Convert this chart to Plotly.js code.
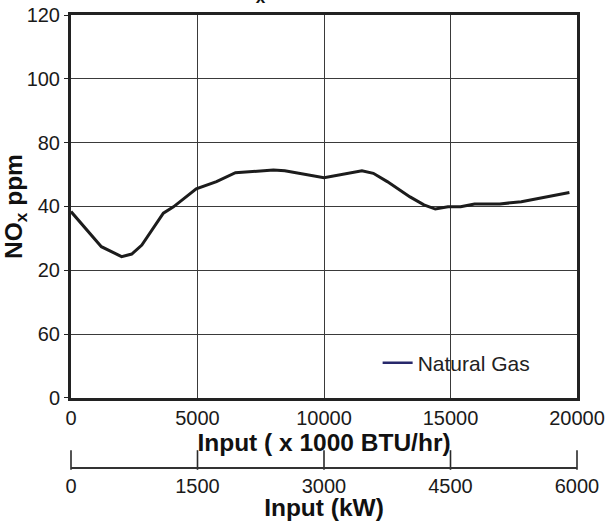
<!DOCTYPE html>
<html>
<head>
<meta charset="utf-8">
<script src="https://cdn.plot.ly/plotly-3.0.1.min.js"></script>
<style>html,body{margin:0;padding:0;background:#fff;}#chart{width:608px;height:521px;}</style>
</head>
<body>
<div id="chart"></div>
<script>
const inputBtu = [0, 1200, 2000, 2400, 2800, 3650, 4050, 4950, 5750, 6500, 8000, 8450, 10000, 11500, 11950, 12500, 13400, 13950, 14400, 14900, 15400, 15950, 16950, 17800, 19700];
const noxPpm = [58.4, 47.4, 44.3, 45.1, 47.9, 57.9, 59.9, 65.5, 67.8, 70.6, 71.4, 71.2, 69.0, 71.2, 70.4, 67.8, 63.0, 60.5, 59.2, 59.9, 59.9, 60.8, 60.8, 61.5, 64.4];
const yTickVals = [0, 20, 40, 60, 80, 100, 120];
const yTickText = ["0", "60", "20", "40", "80", "100", "120"];
const btuTicks = [0, 5000, 10000, 15000, 20000];
const kwTicks = [0, 1500, 3000, 4500, 6000];
const seriesName = "Natural Gas";

const FONT = "Liberation Sans, Arial, sans-serif";
const traces = [
  {x: inputBtu, y: noxPpm, mode: "lines", line: {color: "#1c1c1c", width: 3}, showlegend: false, hoverinfo: "skip"},
  {x: [null], y: [null], mode: "lines", name: seriesName, line: {color: "#27286b", width: 2.5}, showlegend: true},
  // tick marks of the kW scale (axis decoration)
  {x: kwTicks, y: kwTicks.map(() => 0.5), xaxis: "x2", yaxis: "y2", mode: "markers", showlegend: false, hoverinfo: "skip",
   marker: {symbol: "line-ns", size: 14, line: {width: 1.6, color: "#2a2a2a"}, color: "#2a2a2a"}, cliponaxis: false}
];
const layout = {
  width: 608, height: 521,
  margin: {l: 71, r: 31, t: 15, b: 54},
  paper_bgcolor: "#fff", plot_bgcolor: "rgba(0,0,0,0)",
  font: {family: FONT, color: "#1a1a1a", size: 20},
  showlegend: true,
  legend: {x: 0.606, y: 0.23, xanchor: "left", yanchor: "middle", bgcolor: "rgba(0,0,0,0)", font: {size: 21, color: "#222"}},
  xaxis: {
    range: [0, 20000], tickvals: btuTicks, ticktext: btuTicks.map(String),
    showgrid: true, gridcolor: "#3a3a3a", gridwidth: 1,
    showline: true, linecolor: "#222", linewidth: 3, mirror: true,
    ticks: "", zeroline: false, anchor: "y",
    title: {text: "<b>Input ( x 1000 BTU/hr)</b>", font: {size: 24.5, color: "#111"}, standoff: 1}
  },
  xaxis2: {
    anchor: "y2", domain: [0, 1],
    range: [0, 6000], tickvals: kwTicks, ticktext: kwTicks.map(String),
    showgrid: false, zeroline: false,
    showline: true, linecolor: "#333", linewidth: 1.5,
    ticks: "",
    title: {text: "<b>Input (kW)</b>", font: {size: 24.5, color: "#111"}, standoff: 0}
  },
  yaxis2: {
    domain: [0, 0.031], anchor: "x2", range: [0, 1],
    showgrid: false, zeroline: false, showline: false, showticklabels: false, ticks: ""
  },
  yaxis: {
    domain: [0.1527, 1], range: [0, 120], tickvals: yTickVals, ticktext: yTickText,
    showgrid: true, gridcolor: "#3a3a3a", gridwidth: 1,
    showline: true, linecolor: "#222", linewidth: 3, mirror: true,
    ticks: "outside", ticklen: 4, tickcolor: "#222", zeroline: false,
    title: {text: "<b>NO<sub>x</sub> ppm</b>", font: {size: 24.5, color: "#111"}, standoff: 0}
  },
  annotations: [
    {text: "<b>NO<sub>x</sub></b>", xref: "paper", yref: "paper", x: (268 - 71) / 506, y: 1 + 6 / 452, xanchor: "right", yanchor: "bottom", showarrow: false, font: {size: 24.5, color: "#111"}}
  ]
};
Plotly.newPlot("chart", traces, layout, {staticPlot: true, displayModeBar: false});
</script>
</body>
</html>
